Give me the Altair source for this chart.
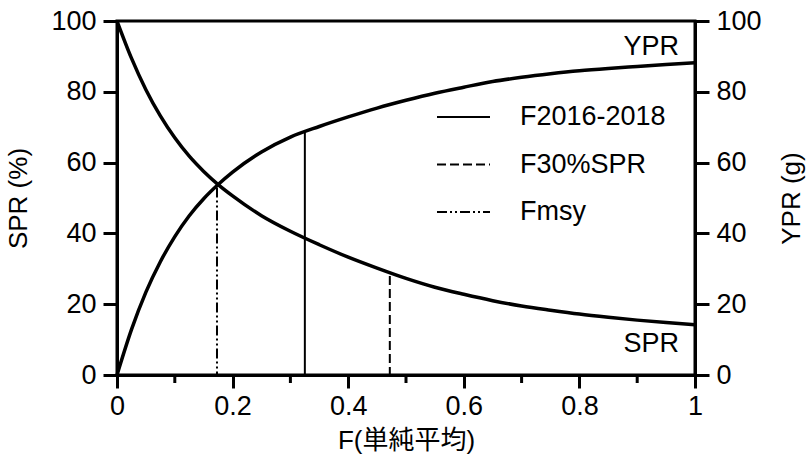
import altair as alt
import pandas as pd

# ---- data ----
F = [0, 0.025, 0.05, 0.075, 0.1, 0.125, 0.15, 0.175, 0.2, 0.25, 0.3, 0.35, 0.4,
     0.45, 0.5, 0.55, 0.6, 0.65, 0.7, 0.75, 0.8, 0.85, 0.9, 0.95, 1.0]
SPR = [100, 89.5, 80.6, 73.2, 67.0, 61.8, 57.5, 53.8, 50.6, 45.0, 40.6, 36.8, 33.3,
       30.2, 27.3, 24.8, 22.8, 21.0, 19.5, 18.3, 17.2, 16.3, 15.5, 14.8, 14.2]
YPR = [0, 12.8, 23.4, 32.0, 39.1, 45.0, 49.8, 53.8, 57.3, 63.0, 67.2, 70.2, 72.9,
       75.4, 77.6, 79.6, 81.3, 82.9, 84.1, 85.1, 85.95, 86.6, 87.15, 87.7, 88.2]

ref_names = ["F2016-2018", "F30%SPR", "Fmsy"]
ref_F = [0.325, 0.472, 0.173]
ref_top = [68.6, 28.0, 53.0]

x_ticks = [0, 0.2, 0.4, 0.6, 0.8, 1.0]
x_minor = [0.1, 0.3, 0.5, 0.7, 0.9]
y_ticks = [0, 20, 40, 60, 80, 100]
curve_names = ["YPR", "SPR"]

FONT = "Liberation Sans, Noto Sans CJK JP"
FS = 27

curves = pd.DataFrame({"F": F, "SPR": SPR, "YPR": YPR})
refs = pd.DataFrame({"name": ref_names, "F": ref_F, "top": ref_top})

xscale = alt.Scale(domain=[0, 1], nice=False, zero=False)
yscale = alt.Scale(domain=[0, 100], nice=False)

x_axis = alt.Axis(values=x_ticks, format="~g", tickSize=13, labelPadding=5,
                  labelFlush=False, title="F(単純平均)", titleY=65,
                  titleBaseline="middle", titleAlign="center")
left_axis = alt.Axis(values=y_ticks, tickSize=14, labelPadding=7, title="SPR (%)",
                     titleAngle=270, titleX=-99, titleY=177,
                     titleBaseline="middle", titleAlign="center")
right_axis = alt.Axis(values=y_ticks, orient="right", tickSize=14, labelPadding=7,
                      title="YPR (g)", titleAngle=270, titleX=96, titleY=177,
                      titleBaseline="middle", titleAlign="center")


def xenc(field):
    return alt.X(field, scale=xscale, axis=x_axis)


def yleft(field):
    return alt.Y(field, scale=yscale, axis=left_axis)


spr_line = alt.Chart(curves).mark_line(
    color="black", strokeWidth=3.5, interpolate="monotone"
).encode(x=xenc("F:Q"), y=yleft("SPR:Q"))

dashes = [[1, 0], [9, 4], [10, 3, 2, 3, 2, 3]]

vlines = []
for i, nm in enumerate(ref_names):
    vlines.append(
        alt.Chart(refs[refs["name"] == nm]).mark_rule(
            color="black", strokeWidth=2, strokeDash=dashes[i]
        ).encode(
            x=xenc("F:Q"),
            y=yleft("top:Q"),
            y2=alt.datum(0),
        )
    )

minor = alt.Chart(pd.DataFrame({"F": x_minor})).mark_rule(
    color="black", strokeWidth=3
).encode(
    x=xenc("F:Q"),
    y=alt.value(354),
    y2=alt.value(362),
)

legend_layers = []
legend_y = [96, 143.5, 191]
for i, nm in enumerate(ref_names):
    df = pd.DataFrame({"label": [nm]})
    legend_layers.append(
        alt.Chart(df).mark_rule(color="black", strokeWidth=2, strokeDash=dashes[i])
        .encode(x=alt.value(320), x2=alt.value(373), y=alt.value(legend_y[i]))
    )
    legend_layers.append(
        alt.Chart(df).mark_text(align="left", baseline="middle", font=FONT,
                                fontSize=FS, color="black")
        .encode(x=alt.value(403), y=alt.value(legend_y[i]), text="label:N")
    )

curve_label_y = [26, 323]
for i, nm in enumerate(curve_names):
    df = pd.DataFrame({"label": [nm]})
    legend_layers.append(
        alt.Chart(df).mark_text(align="right", baseline="middle", font=FONT,
                                fontSize=FS, color="black")
        .encode(x=alt.value(562), y=alt.value(curve_label_y[i]), text="label:N")
    )

left_group = alt.layer(spr_line, *vlines, minor, *legend_layers)

ypr_line = alt.Chart(curves).mark_line(
    color="black", strokeWidth=3.5, interpolate="monotone"
).encode(x=xenc("F:Q"), y=alt.Y("YPR:Q", scale=yscale, axis=right_axis))

chart = alt.layer(left_group, ypr_line).resolve_scale(y="independent").properties(
    width=578, height=354,
    autosize=alt.AutoSizeParams(type="none"),
    padding={"left": 117, "top": 21, "right": 114, "bottom": 88},
).configure_axis(
    domainColor="black", tickColor="black", labelColor="black", titleColor="black",
    labelFont=FONT, titleFont=FONT, labelFontSize=FS, titleFontSize=26,
    titleFontWeight="normal", domainWidth=3, tickWidth=3, grid=False,
).configure_view(stroke="black", strokeWidth=3)

chart.save("out.html", embed_options={"renderer": "svg", "actions": False})
